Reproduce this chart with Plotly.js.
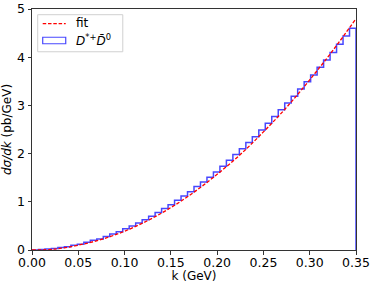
<!DOCTYPE html>
<html>
<head>
<meta charset="utf-8">
<script src="https://cdn.plot.ly/plotly-3.0.1.min.js"></script>
<style>html,body{margin:0;padding:0;background:#fff;}#plot{width:374px;height:286px;}</style>
</head>
<body>
<div id="plot"></div>
<script>
// Histogram: 50 bins of width 0.007 GeV from 0 to 0.35
const binStart = 0.0;
const binWidth = 0.007;
const histValues = [
  0.00, 0.01, 0.02, 0.03, 0.05, 0.07, 0.10, 0.12, 0.16, 0.20,
  0.23, 0.28, 0.33, 0.38, 0.44, 0.50, 0.56, 0.63, 0.70, 0.78,
  0.86, 0.94, 1.03, 1.12, 1.21, 1.32, 1.41, 1.51, 1.62, 1.74,
  1.86, 1.98, 2.10, 2.23, 2.35, 2.49, 2.63, 2.77, 2.91, 3.05,
  3.19, 3.34, 3.49, 3.63, 3.79, 3.94, 4.10, 4.27, 4.44, 4.60
];
// Fit curve read at k points
const fitK = [0, 0.025, 0.05, 0.075, 0.10, 0.125, 0.15, 0.175, 0.20, 0.225, 0.25, 0.275, 0.30, 0.325, 0.35];
const fitY = [0, 0.02, 0.10, 0.22, 0.39, 0.61, 0.88, 1.20, 1.57, 1.98, 2.45, 2.96, 3.53, 4.14, 4.80];
const xTicks = [0, 0.05, 0.10, 0.15, 0.20, 0.25, 0.30, 0.35];
const xTickText = ["0.00","0.05","0.10","0.15","0.20","0.25","0.30","0.35"];
const yTicks = [0, 1, 2, 3, 4, 5];
const fitLabel = "fit";
const histLabel = "<i>D</i><sup>*+</sup><i>D\u0304</i><sup>0</sup>";

// build step outline
const sx = [binStart], sy = [0];
histValues.forEach((v, i) => { sx.push(binStart + i * binWidth); sy.push(v); });
const lastEdge = binStart + histValues.length * binWidth;
sx.push(lastEdge); sy.push(histValues[histValues.length - 1]);
sx.push(lastEdge); sy.push(0);

const histColor = "rgba(0,0,255,0.72)";
const fitColor = "rgb(255,0,0)";
const font = "DejaVu Sans, sans-serif";

const traces = [
  {x: sx, y: sy, type: "scatter", mode: "lines", line: {shape: "hv", color: histColor, width: 1.5}, name: histLabel, showlegend: false, cliponaxis: false},
  {x: fitK, y: fitY, type: "scatter", mode: "lines", line: {shape: "spline", color: fitColor, width: 1.3, dash: "3.5px,1.8px"}, name: fitLabel, showlegend: false}
];

// plot area pixels: x 32.3..356, y 9.3..250
const L = 32.3, R = 356, T = 9.3, B = 250;
const px = p => (p - L) / (R - L);
const py = p => (B - p) / (B - T);

const layout = {
  width: 374, height: 286,
  margin: {l: 32, r: 18, t: 9, b: 36},
  paper_bgcolor: "#fff", plot_bgcolor: "#fff",
  font: {family: font, size: 12, color: "#000"},
  xaxis: {
    range: [0, 0.35], tickvals: xTicks, ticktext: xTickText,
    showgrid: false, zeroline: false, showline: true, mirror: true,
    linecolor: "#333", linewidth: 1, ticks: "outside", ticklen: 3.5, tickcolor: "#333",
    ticklabelstandoff: -3,
    tickfont: {size: 12.5}, title: {text: "k (GeV)", font: {size: 12}, standoff: 2}
  },
  yaxis: {
    range: [0, 5], tickvals: yTicks,
    showgrid: false, zeroline: false, showline: true, mirror: true,
    linecolor: "#333", linewidth: 1, ticks: "outside", ticklen: 3.5, tickcolor: "#333",
    tickfont: {size: 12.5}, title: {text: "<i>d\u03c3/dk</i> (pb/GeV)", font: {size: 12}, standoff: 3}
  },
  shapes: [
    {type: "rect", xref: "paper", yref: "paper", x0: px(38), x1: px(123), y0: py(52), y1: py(15),
     line: {color: "#d0d0d0", width: 1}, fillcolor: "rgba(255,255,255,0.8)"},
    {type: "line", xref: "paper", yref: "paper", x0: px(43), x1: px(66), y0: py(24), y1: py(24),
     line: {color: fitColor, width: 1.3, dash: "3.5px,1.8px"}},
    {type: "rect", xref: "paper", yref: "paper", x0: px(43), x1: px(66), y0: py(44), y1: py(37.5),
     line: {color: histColor, width: 1.2}, fillcolor: "rgba(0,0,0,0)"}
  ],
  annotations: [
    {xref: "paper", yref: "paper", x: px(74), y: py(23.5), text: fitLabel, showarrow: false, xanchor: "left", yanchor: "middle", font: {size: 12}},
    {xref: "paper", yref: "paper", x: px(74), y: py(40), text: histLabel, showarrow: false, xanchor: "left", yanchor: "middle", font: {size: 12}}
  ]
};

Plotly.newPlot("plot", traces, layout, {staticPlot: true, displayModeBar: false});
</script>
</body>
</html>
